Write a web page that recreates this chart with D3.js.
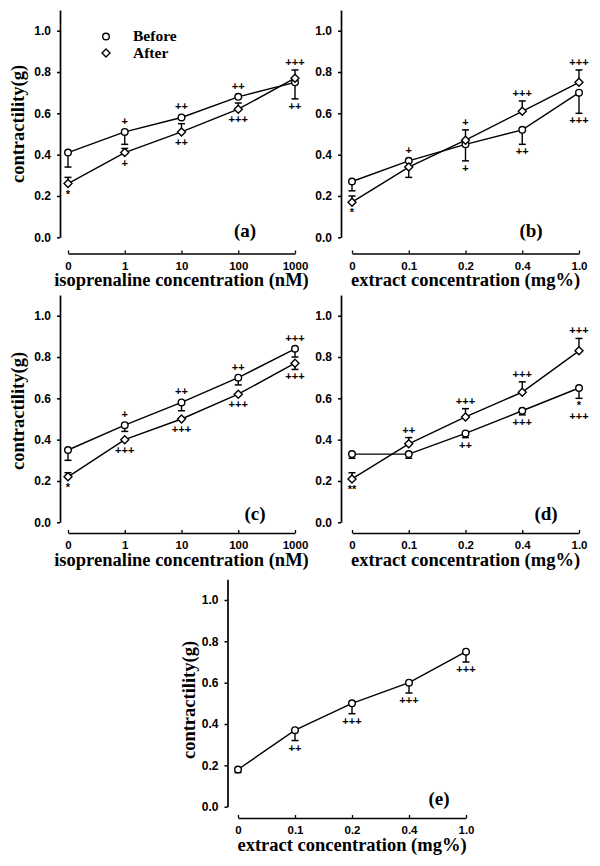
<!DOCTYPE html>
<html>
<head>
<meta charset="utf-8">
<script src="https://cdn.jsdelivr.net/npm/d3@7"></script>
<style>
  html, body { margin: 0; padding: 0; background: #fff; }
  svg { display: block; }
</style>
</head>
<body>
<svg id="chart" width="600" height="866"></svg>
<script>
// ---------------- DATA ----------------
const isoTicks = ["0", "1", "10", "100", "1000"];
const extractTicks = ["0", "0.1", "0.2", "0.4", "1.0"];
const yTicks = [0, 0.2, 0.4, 0.6, 0.8, 1.0];
const legendLabels = ["Before", "After"];

// (a) isoprenaline
const aBefore    = [0.41, 0.51, 0.58, 0.68, 0.75];
const aBeforeErr = [0.34, 0.45, null, null, 0.67];
const aAfter     = [0.26, 0.41, 0.51, 0.62, 0.77];
const aAfterErr  = [0.29, 0.43, 0.55, 0.65, 0.81];
const aAbove = [[], ["+"], ["++"], ["++"], ["+++"]];
const aBelow = [["*"], ["+"], ["++"], ["+++"], ["++"]];

// (b) extract
const bBefore    = [0.27, 0.37, 0.45, 0.52, 0.70];
const bBeforeErr = [0.225, null, 0.37, 0.45, 0.60];
const bAfter     = [0.17, 0.34, 0.47, 0.61, 0.75];
const bAfterErr  = [0.20, 0.29, 0.52, 0.66, 0.81];
const bAbove = [[], ["+"], ["+"], ["+++"], ["+++"]];
const bBelow = [["*"], [], ["+"], ["++"], ["+++"]];

// (c) isoprenaline
const cBefore    = [0.35, 0.47, 0.58, 0.70, 0.84];
const cBeforeErr = [0.30, 0.44, 0.54, 0.665, 0.80];
const cAfter     = [0.22, 0.40, 0.50, 0.62, 0.77];
const cAfterErr  = [0.24, null, null, null, 0.74];
const cAbove = [[], ["+"], ["++"], ["++"], ["+++"]];
const cBelow = [["*"], ["+++"], ["+++"], ["+++"], ["+++"]];

// (d) extract
const dBefore    = [0.33, 0.33, 0.43, 0.54, 0.65];
const dBeforeErr = [0.31, 0.31, 0.41, 0.52, 0.60];
const dAfter     = [0.21, 0.38, 0.51, 0.63, 0.83];
const dAfterErr  = [0.24, 0.41, 0.55, 0.68, 0.89];
const dAbove = [[], ["++"], ["+++"], ["+++"], ["+++"]];
const dBelow = [["**"], [], ["++"], ["+++"], ["*", "+++"]];

// (e) extract, single series
const eValues = [0.18, 0.37, 0.50, 0.60, 0.75];
const eErr    = [0.165, 0.32, 0.45, 0.55, 0.70];
const eAbove = [[], [], [], [], []];
const eBelow = [[], ["++"], ["+++"], ["+++"], ["+++"]];

const isoTitle = "isoprenaline concentration (nM)";
const extTitle = "extract concentration (mg%)";
const yTitle = "contractility(g)";

// ---------------- LAYOUT ----------------
const SERIF = "'Liberation Serif', 'Times New Roman', Times, serif";
const SANS = "'Liberation Sans', Arial, Helvetica, sans-serif";

const panels = [
  { id: "(a)", ticks: isoTicks, title: isoTitle, axisX: 60, x0: 68, x1: 295, y0: 237.3, y1: 30.7, xAxisY: 253.5,
    series: [{ v: aBefore, e: aBeforeErr, m: "circle" }, { v: aAfter, e: aAfterErr, m: "diamond" }],
    above: aAbove, below: aBelow, label: [245, 237], yLab: [24, 124], legend: true },
  { id: "(b)", ticks: extractTicks, title: extTitle, axisX: 341, x0: 352, x1: 579, y0: 237.3, y1: 30.7, xAxisY: 253.5,
    series: [{ v: bBefore, e: bBeforeErr, m: "circle" }, { v: bAfter, e: bAfterErr, m: "diamond" }],
    above: bAbove, below: bBelow, label: [531, 237], yLab: null },
  { id: "(c)", ticks: isoTicks, title: isoTitle, axisX: 60, x0: 68, x1: 295, y0: 522.3, y1: 315.7, xAxisY: 533,
    series: [{ v: cBefore, e: cBeforeErr, m: "circle" }, { v: cAfter, e: cAfterErr, m: "diamond" }],
    above: cAbove, below: cBelow, label: [255, 520], yLab: [24, 411] },
  { id: "(d)", ticks: extractTicks, title: extTitle, axisX: 341, x0: 352, x1: 579, y0: 522.3, y1: 315.7, xAxisY: 533,
    series: [{ v: dBefore, e: dBeforeErr, m: "circle" }, { v: dAfter, e: dAfterErr, m: "diamond" }],
    above: dAbove, below: dBelow, label: [546, 520], yLab: null },
  { id: "(e)", ticks: extractTicks, title: extTitle, axisX: 227.5, x0: 238, x1: 466, y0: 806.7, y1: 600, xAxisY: 818,
    series: [{ v: eValues, e: eErr, m: "circle" }],
    above: eAbove, below: eBelow, label: [439, 805], yLab: [195, 700] }
];

const svg = d3.select("#chart");
const R = 3.3;      // circle radius
const D = 4.0;      // diamond half-diagonal
const CAP = 3.5;    // error-bar half cap

function drawMarker(g, type, cx, cy) {
  if (type === "circle") {
    g.append("circle").attr("cx", cx).attr("cy", cy).attr("r", R)
      .attr("fill", "#fff").attr("stroke", "#000").attr("stroke-width", 1.4);
  } else {
    g.append("path")
      .attr("d", `M${cx},${cy - D}L${cx + D},${cy}L${cx},${cy + D}L${cx - D},${cy}Z`)
      .attr("fill", "#fff").attr("stroke", "#000").attr("stroke-width", 1.4);
  }
}

panels.forEach(p => {
  const g = svg.append("g");
  const x = d3.scalePoint().domain(p.ticks).range([p.x0, p.x1]).padding(0);
  const unit = p.y0 - p.y1;
  const y = d3.scaleLinear().domain([0, 1.1]).range([p.y0, p.y0 - 1.1 * unit]);

  // y axis
  const yAx = g.append("g").attr("transform", `translate(${p.axisX},0)`)
    .call(d3.axisLeft(y).tickValues(yTicks).tickFormat(d3.format(".1f"))
      .tickSizeInner(3).tickSizeOuter(0).tickPadding(6));
  yAx.select(".domain").attr("stroke-width", 1.7);
  yAx.selectAll(".tick line").attr("stroke-width", 1.5);
  yAx.selectAll("text").attr("font-family", SANS).attr("font-weight", "bold")
    .attr("font-size", 12).attr("fill", "#000");

  // x axis
  const xAx = g.append("g").attr("transform", `translate(0,${p.xAxisY})`)
    .call(d3.axisBottom(x).tickSizeInner(-3).tickSizeOuter(0).tickPadding(8));
  xAx.select(".domain").attr("stroke-width", 1.7);
  xAx.selectAll(".tick line").attr("stroke-width", 1.3);
  xAx.selectAll("text").attr("font-family", SANS).attr("font-weight", "bold")
    .attr("font-size", 11.5).attr("fill", "#000");

  // x title
  g.append("text").attr("x", (p.x0 + p.x1) / 2).attr("y", p.xAxisY + 32.5)
    .attr("text-anchor", "middle").attr("font-family", SERIF).attr("font-weight", "bold")
    .attr("font-size", 18.5).attr("fill", "#000").text(p.title);

  // y title
  if (p.yLab) {
    g.append("text").attr("transform", `translate(${p.yLab[0]},${p.yLab[1]}) rotate(-90)`)
      .attr("text-anchor", "middle").attr("font-family", SERIF).attr("font-weight", "bold")
      .attr("font-size", 18.5).attr("fill", "#000").text(yTitle);
  }

  // panel label
  g.append("text").attr("x", p.label[0]).attr("y", p.label[1])
    .attr("text-anchor", "middle").attr("font-family", SERIF).attr("font-weight", "bold")
    .attr("font-size", 19).attr("fill", "#000").text(p.id);

  // lines
  const line = d3.line().x((d, i) => x(p.ticks[i])).y(d => y(d));
  p.series.forEach(s => {
    g.append("path").attr("d", line(s.v)).attr("fill", "none")
      .attr("stroke", "#000").attr("stroke-width", 1.4);
  });

  // error bars
  p.series.forEach(s => {
    s.v.forEach((v, i) => {
      const e = s.e[i];
      if (e == null) return;
      const cx = x(p.ticks[i]);
      g.append("line").attr("x1", cx).attr("x2", cx).attr("y1", y(v)).attr("y2", y(e))
        .attr("stroke", "#000").attr("stroke-width", 1.4);
      g.append("line").attr("x1", cx - CAP).attr("x2", cx + CAP).attr("y1", y(e)).attr("y2", y(e))
        .attr("stroke", "#000").attr("stroke-width", 1.5);
    });
  });

  // markers
  p.series.forEach(s => {
    s.v.forEach((v, i) => drawMarker(g, s.m, x(p.ticks[i]), y(v)));
  });

  // significance annotations
  p.ticks.forEach((t, i) => {
    const cx = x(t);
    let top = Infinity, bottom = -Infinity;
    p.series.forEach(s => {
      const py = y(s.v[i]);
      top = Math.min(top, py - D);
      bottom = Math.max(bottom, py + D);
      if (s.e[i] != null) {
        top = Math.min(top, y(s.e[i]) - 1);
        bottom = Math.max(bottom, y(s.e[i]) + 1);
      }
    });
    const ab = p.above[i];
    ab.forEach((txt, k) => {
      g.append("text").attr("x", cx).attr("y", top - 3 - (ab.length - 1 - k) * 11)
        .attr("text-anchor", "middle").attr("font-family", SANS).attr("font-weight", "bold")
        .attr("font-size", 11).attr("fill", "#000").text(txt);
    });
    p.below[i].forEach((txt, k) => {
      g.append("text").attr("x", cx).attr("y", bottom + 10 + k * 11)
        .attr("text-anchor", "middle").attr("font-family", SANS).attr("font-weight", "bold")
        .attr("font-size", 11).attr("fill", "#000").text(txt);
    });
  });

  // legend
  if (p.legend) {
    const lg = g.append("g");
    const markers = ["circle", "diamond"];
    legendLabels.forEach((lab, k) => {
      const ly = 36.5 + k * 16.5;
      drawMarker(lg, markers[k], 106, ly);
      lg.append("text").attr("x", 133).attr("y", ly + 4.5)
        .attr("font-family", SERIF).attr("font-weight", "bold").attr("font-size", 15.5)
        .attr("fill", "#000").text(lab);
    });
  }
});
</script>
</body>
</html>
